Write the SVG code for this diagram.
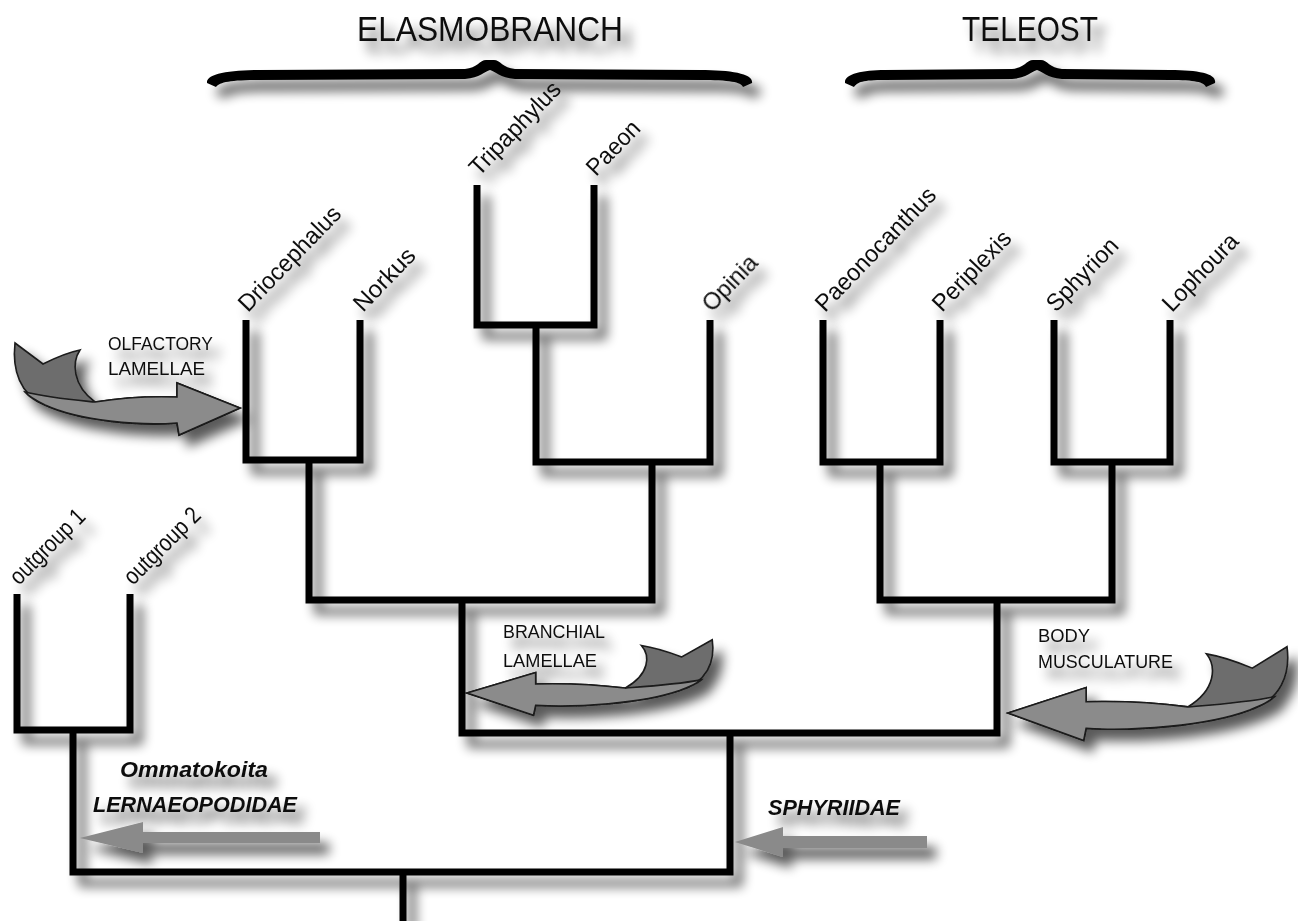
<svg xmlns="http://www.w3.org/2000/svg" xmlns:xlink="http://www.w3.org/1999/xlink" width="1298" height="921" viewBox="0 0 1298 921">
<style>
text { font-family: "Liberation Sans", Arial, sans-serif; fill: #111; }
.hdr { font-size: 35px; }
.lab { font-size: 24px; }
.ann { font-size: 19px; }
.fam { font-size: 22px; font-weight: bold; font-style: italic; }
.tree { fill: none; stroke: #000; stroke-width: 7; stroke-linejoin: miter; stroke-linecap: butt; }
.brace { fill: #000; }
.dark { fill: #6d6d6d; stroke: #1a1a1a; stroke-width: 1.6; }
.light { fill: #8b8b8b; stroke: #1a1a1a; stroke-width: 1.6; }
.sarrow { fill: #8a8a8a; }
</style>
<defs>
<filter id="sh" filterUnits="userSpaceOnUse" x="0" y="0" width="1298" height="921">
<feGaussianBlur in="SourceAlpha" stdDeviation="6"/>
<feOffset dx="9" dy="11" result="o"/>
<feComponentTransfer><feFuncA type="linear" slope="0.65"/></feComponentTransfer>
<feMerge><feMergeNode/><feMergeNode in="SourceGraphic"/></feMerge>
</filter>
<g id="curl">
<path class="dark" vector-effect="non-scaling-stroke" d="M-225,-65 L-197,-44 C-185,-50 -170,-56 -160,-58 C-168,-46 -168,-23 -145,-6 C-120,-10 -90,-12 -63,-11 L-63,-25 L0,0 L-61,27 L-63,15 C-100,18 -160,13 -195,-3 C-220,-13 -228,-38 -225,-65 Z"/>
<path class="light" vector-effect="non-scaling-stroke" d="M-215,-16 C-190,-10 -165,-8 -145,-6 C-120,-10 -90,-12 -63,-11 L-63,-25 L0,0 L-61,27 L-63,15 C-100,18 -160,13 -195,-3 C-205,-8 -211,-11 -215,-16 Z"/>
</g>
</defs>
<rect width="1298" height="921" fill="#fff"/>

<g id="headers" filter="url(#sh)">
<g id="elasmobranch">
<text class="hdr" x="490" y="41" text-anchor="middle" textLength="266" lengthAdjust="spacingAndGlyphs">ELASMOBRANCH</text>
<path class="brace" d="M207,83 C206,74 228,70 260,70 L465,69 C477,68 480,60 486,60 L494,60 C500,60 503,68 515,69 L700,70 C732,70 754,74 752,83 L743,87 C741,82 730,80 700,80 L515,79 C500,78 495,71 490,70 C485,71 480,78 465,79 L260,80 C230,80 220,82 216,87 Z"/>
</g>
<g id="teleost">
<text class="hdr" x="1030" y="41" text-anchor="middle" textLength="136" lengthAdjust="spacingAndGlyphs">TELEOST</text>
<path class="brace" d="M845,83 C844,74 862,70 885,70 L1012,69 C1024,68 1027,60 1033,60 L1041,60 C1047,60 1050,68 1062,69 L1170,70 C1200,70 1217,74 1215,83 L1206,87 C1204,82 1195,80 1170,80 L1062,79 C1047,78 1042,71 1037,70 C1032,71 1027,78 1012,79 L885,80 C862,80 858,82 854,87 Z"/>
</g>
</g>

<g id="connectors" filter="url(#sh)">
<path class="tree" d="M17,594 V730 H130 V594"/>
<path class="tree" d="M73,730 V872 H730 V733"/>
<path class="tree" d="M403,872 V921"/>
<path class="tree" d="M462,600 V733 H997 V600"/>
<path class="tree" d="M246,320 V460 H360 V320"/>
<path class="tree" d="M309,460 V600 H652 V462"/>
<path class="tree" d="M477,185 V325 H594 V185"/>
<path class="tree" d="M536,325 V462 H710 V320"/>
<path class="tree" d="M823,320 V462 H940 V320"/>
<path class="tree" d="M1054,320 V462 H1170 V320"/>
<path class="tree" d="M880,462 V600 H1112 V462"/>
</g>

<g id="taxa" filter="url(#sh)">
<g id="outgroup1"><text class="lab" transform="translate(19,586) rotate(-45)" textLength="96" lengthAdjust="spacingAndGlyphs">outgroup 1</text></g>
<g id="outgroup2"><text class="lab" transform="translate(133,586) rotate(-45)" textLength="98" lengthAdjust="spacingAndGlyphs">outgroup 2</text></g>
<g id="driocephalus"><text class="lab" transform="translate(248,313) rotate(-46)" textLength="136" lengthAdjust="spacingAndGlyphs">Driocephalus</text></g>
<g id="norkus"><text class="lab" transform="translate(363,313) rotate(-46)" textLength="78" lengthAdjust="spacingAndGlyphs">Norkus</text></g>
<g id="tripaphylus"><text class="lab" transform="translate(479,177) rotate(-46)" textLength="120" lengthAdjust="spacingAndGlyphs">Tripaphylus</text></g>
<g id="paeon"><text class="lab" transform="translate(596,177) rotate(-46)" textLength="66" lengthAdjust="spacingAndGlyphs">Paeon</text></g>
<g id="opinia"><text class="lab" transform="translate(712,313) rotate(-46)" textLength="68" lengthAdjust="spacingAndGlyphs">Opinia</text></g>
<g id="paeonocanthus"><text class="lab" transform="translate(825,313) rotate(-46)" textLength="162" lengthAdjust="spacingAndGlyphs">Paeonocanthus</text></g>
<g id="periplexis"><text class="lab" transform="translate(942,313) rotate(-46)" textLength="102" lengthAdjust="spacingAndGlyphs">Periplexis</text></g>
<g id="sphyrion"><text class="lab" transform="translate(1056,313) rotate(-46)" textLength="92" lengthAdjust="spacingAndGlyphs">Sphyrion</text></g>
<g id="lophoura"><text class="lab" transform="translate(1172,313) rotate(-46)" textLength="98" lengthAdjust="spacingAndGlyphs">Lophoura</text></g>
</g>

<g id="characters" filter="url(#sh)">
<g id="olfactory">
<use xlink:href="#curl" href="#curl" transform="translate(240,408)"/>
<text class="ann" x="108" y="350" textLength="105" lengthAdjust="spacingAndGlyphs">OLFACTORY</text>
<text class="ann" x="108" y="375" textLength="97" lengthAdjust="spacingAndGlyphs">LAMELLAE</text>
</g>
<g id="branchial">
<use xlink:href="#curl" href="#curl" transform="translate(467,693) scale(-1.09,0.82)"/>
<text class="ann" x="503" y="638" textLength="102" lengthAdjust="spacingAndGlyphs">BRANCHIAL</text>
<text class="ann" x="503" y="667" textLength="94" lengthAdjust="spacingAndGlyphs">LAMELLAE</text>
</g>
<g id="body">
<use xlink:href="#curl" href="#curl" transform="translate(1008,713) scale(-1.24,1.02)"/>
<text class="ann" x="1038" y="642" textLength="52" lengthAdjust="spacingAndGlyphs">BODY</text>
<text class="ann" x="1038" y="668" textLength="135" lengthAdjust="spacingAndGlyphs">MUSCULATURE</text>
</g>
<g id="lernaeopodidae">
<path class="sarrow" d="M80,838 L143,822 L143,832 L320,832 L320,843 L143,843 L143,853 Z"/>
<text class="fam" x="120" y="777" textLength="148" lengthAdjust="spacingAndGlyphs">Ommatokoita</text>
<text class="fam" x="93" y="812" textLength="204" lengthAdjust="spacingAndGlyphs">LERNAEOPODIDAE</text>
</g>
<g id="sphyriidae">
<path class="sarrow" d="M735,842 L783,827 L783,836 L927,836 L927,848 L783,848 L783,857 Z"/>
<text class="fam" x="768" y="815" textLength="132" lengthAdjust="spacingAndGlyphs">SPHYRIIDAE</text>
</g>
</g>
</svg>
